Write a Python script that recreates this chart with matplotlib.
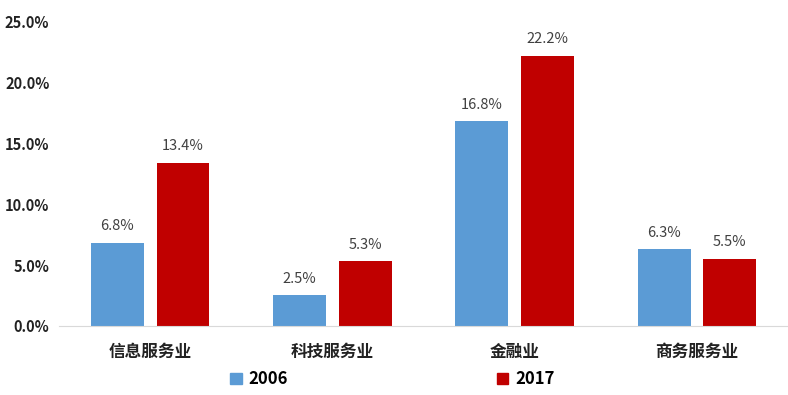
import numpy as np
import matplotlib.pyplot as plt
from matplotlib.patches import Patch

plt.rcParams['font.family'] = ['Noto Sans CJK SC', 'DejaVu Sans']

categories = ['信息服务业', '科技服务业', '金融业', '商务服务业']
vals_2006 = [6.8, 2.5, 16.8, 6.3]
vals_2017 = [13.4, 5.3, 22.2, 5.5]
series_names = ['2006', '2017']
colors = ['#5B9BD5', '#C00000']

fig = plt.figure(figsize=(7.88, 3.95), dpi=100)
ax = fig.add_axes([0.075, 0.175, 0.925, 0.77])

x = np.arange(len(categories))
w = 0.29
off = 0.18
b1 = ax.bar(x - off, vals_2006, w, color=colors[0])
b2 = ax.bar(x + off, vals_2017, w, color=colors[1])

for bars, vals in [(b1, vals_2006), (b2, vals_2017)]:
    for b, v in zip(bars, vals):
        ax.annotate('{:.1f}%'.format(v), (b.get_x() + b.get_width() / 2, v),
                    xytext=(0, 7), textcoords='offset points',
                    ha='center', va='bottom', fontsize=10.5, color='#404040')

ax.set_xlim(-0.5, 3.5)
ax.set_ylim(0, 25)
ax.set_yticks(np.arange(0, 26, 5))
ax.set_yticklabels(['{:.1f}%'.format(t) for t in np.arange(0, 26, 5)],
                   fontsize=10.5, fontweight='bold', color='#222222')
ax.set_xticks(x)
ax.set_xticklabels(categories, fontsize=12, fontweight='bold', color='#222222')
ax.tick_params(length=0)
ax.tick_params(axis='x', pad=12)
ax.tick_params(axis='y', pad=7)
for s in ['top', 'right', 'left']:
    ax.spines[s].set_visible(False)
ax.spines['bottom'].set_color('#D9D9D9')

handles = [Patch(color=c) for c in colors]
fig.legend(handles, series_names, loc='center', bbox_to_anchor=(0.498, 0.04),
           ncol=2, frameon=False, handlelength=0.7, handleheight=0.7,
           handletextpad=0.4, columnspacing=12.5,
           prop={'size': 12, 'weight': 'bold'})

fig.savefig('out.png', dpi=100)
